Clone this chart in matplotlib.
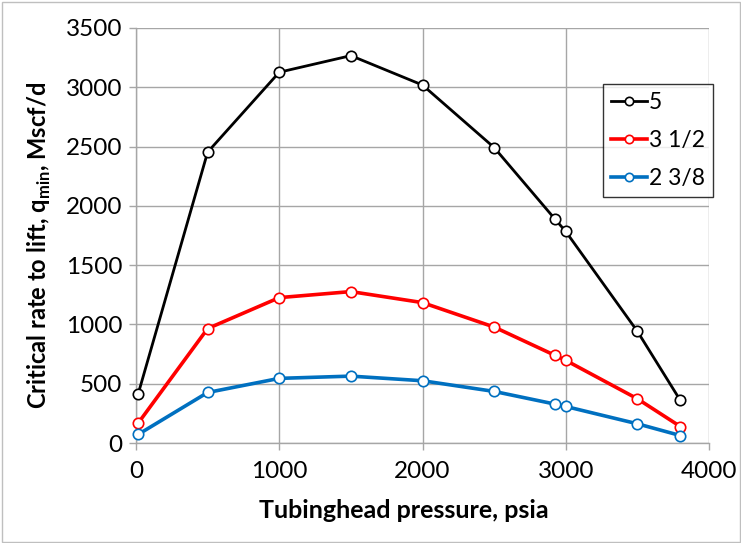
import matplotlib
matplotlib.use("Agg")
import matplotlib.pyplot as plt
from matplotlib.patches import Rectangle

plt.rcParams['font.family'] = ['Lato', 'DejaVu Sans']

# Tubinghead pressure, psia
pressure = [14.7, 500, 1000, 1500, 2000, 2500, 2925, 3000, 3500, 3800]

# Critical rate to lift, Mscf/d, per tubing size
q_5 = [412, 2453, 3127, 3267, 3019, 2492, 1888, 1784, 942, 359]
q_3_5 = [167, 965, 1226, 1277, 1184, 978, 739, 697, 373, 139]
q_2_375 = [72, 426, 545, 564, 525, 435, 328, 308, 162, 63]

series_labels = ["5", "3 1/2", "2 3/8"]
series_colors = ["#000000", "#FF0000", "#0070C0"]
series_widths = [2.0, 2.6, 2.6]

x_ticks = [0, 1000, 2000, 3000, 4000]
y_ticks = [0, 500, 1000, 1500, 2000, 2500, 3000, 3500]

W, H = 741, 543
fig = plt.figure(figsize=(W / 100, H / 100), dpi=100)
ax = fig.add_axes([136 / W, 1 - 443 / H, (709 - 136) / W, (443 - 28) / H])

for vals, lab, col, lw in zip([q_5, q_3_5, q_2_375], series_labels,
                              series_colors, series_widths):
    ax.plot(pressure, vals, color=col, lw=lw, marker='o', ms=7.5,
            mfc='white', mec=col, mew=1.2, label=lab, zorder=3,
            clip_on=False)

ax.set_xlim(0, 4000)
ax.set_ylim(0, 3500)
ax.set_xticks(x_ticks)
ax.set_yticks(y_ticks)
ax.tick_params(axis='both', labelsize=17.5, colors='#A6A6A6',
               labelcolor='black', length=5, width=1, direction='out')
ax.tick_params(axis='x', pad=8)
ax.tick_params(axis='y', pad=5)
ax.grid(True, color='#A6A6A6', lw=1)
ax.set_axisbelow(True)
for side in ('top', 'right'):
    ax.spines[side].set_visible(False)
for side in ('left', 'bottom'):
    ax.spines[side].set_color('#A6A6A6')
    ax.spines[side].set_linewidth(1)

ax.set_xlabel("Tubinghead pressure, psia", fontsize=18, fontweight='bold')
ax.xaxis.set_label_coords(0.468, -0.135)
ax.set_ylabel(r"Critical rate to lift, q$_{\mathregular{min}}$, Mscf/d",
              fontsize=17, fontweight='bold')
ax.yaxis.set_label_coords(-0.145, 0.477)

leg = ax.legend(loc='upper left', bbox_to_anchor=(603 / W, 1 - 84 / H),
                bbox_transform=fig.transFigure, borderaxespad=0,
                fontsize=16.5, frameon=True, fancybox=False,
                edgecolor='black', handlelength=1.55, handletextpad=0.1,
                labelspacing=0.75, borderpad=0.35, markerscale=0.8)
leg.get_frame().set_linewidth(1)

fig.patches.append(Rectangle((1.5 / W, 1.5 / H), 1 - 3 / W, 1 - 3 / H,
                             transform=fig.transFigure, fill=False,
                             edgecolor='#BFBFBF', lw=1))

fig.savefig("out.png", dpi=100)
